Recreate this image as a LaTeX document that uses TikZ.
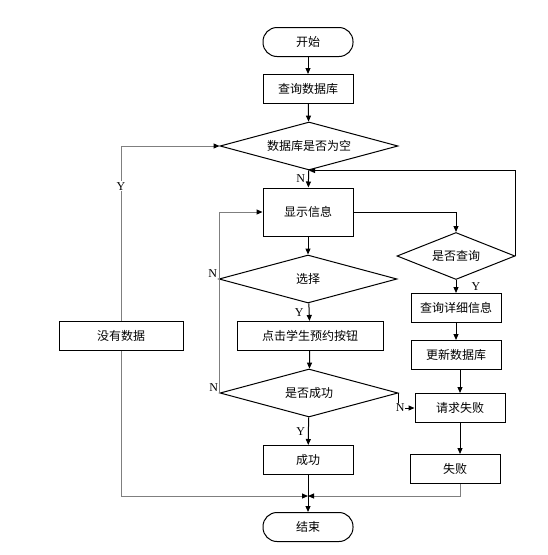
\documentclass[tikz,border=0pt]{standalone}
\usepackage{fontspec}
\setmainfont{Liberation Serif}
\newfontfamily\cjk{Noto Sans CJK SC}
\usetikzlibrary{shapes.geometric,arrows.meta}
\definecolor{line-gray}{HTML}{7F7F7F}

\begin{document}
\begin{tikzpicture}[x=1pt, y=-1pt, line width=1pt, >={Triangle[length=6pt,width=5pt,color=black]},
    box/.style={draw, rectangle, minimum width=90pt, minimum height=29pt, font=\cjk\fontsize{12}{14}\selectfont},
    term/.style={box, rounded corners=14pt},
    cond/.style={draw, diamond, aspect=3.7, inner sep=0pt, minimum width=178pt, minimum height=48pt, font=\cjk\fontsize{12}{14}\selectfont},
    lbl/.style={font=\fontsize{12}{14}\selectfont, inner sep=1pt},
    back/.style={draw=line-gray}]
        \useasboundingbox (0,0) rectangle (547,555);
        \node[term] (a1) at (308,42) {开始};
        \node[box] (a2) at (308,89) {查询数据库};
        \node[cond] (a3) at (309,146) {数据库是否为空};
        \node[box, minimum height=48pt] (a4) at (308,212) {显示信息};
        \node[cond] (a5) at (308,279) {选择};
        \node[box, minimum width=146pt] (a6) at (310,336) {点击学生预约按钮};
        \node[cond] (a7) at (309,393) {是否成功};
        \node[box] (a8) at (308,460) {成功};
        \coordinate (m) at (308,496);
        \node[term] (a9) at (308,527) {结束};
        \node[cond, aspect=2.5, minimum width=118pt, minimum height=47pt] (b1) at (456,256) {是否查询};
        \node[box] (b2) at (456,308) {查询详细信息};
        \node[box] (b3) at (456,355) {更新数据库};
        \node[box] (b4) at (460,408) {请求失败};
        \node[box] (b5) at (455,469) {失败};
        \node[box, minimum width=124pt] (c1) at (121,336) {没有数据};

        \draw[->] (a1) -- (a2);
        \draw[->] (a2) -- (a3);
        \draw[->] (a3) -- node[lbl, left, xshift=-2pt] {N} (a4);
        \draw[->] (a4) -- (a5);
        \draw[->] (a5) -- node[lbl, left, xshift=-4pt] {Y} (a6);
        \draw[->] (a6) -- (a7);
        \draw[->] (a7) -- node[lbl, left, xshift=-2pt] {Y} (a8);
        \draw[->] (a8) -- (a9);
        \draw[back, ->] (a7.west) |- (a4.west);
        \node[lbl, above left] at (a5.west) {N};
        \node[lbl, above left] at (a7.west) {N};
        \draw[back, ->] (c1) |- node[lbl, pos=0.385, fill=white] {Y} (a3.west);
        \draw[back, ->] (c1) |- (m);
        \draw[->] (a4.east) -| (b1.north);
        \draw[->] (b1.east) |- (a3.south);
        \draw[->] (b1) -- node[lbl, right, xshift=14pt] {Y} (b2);
        \draw[->] (b2) -- (b3);
        \draw[->] (b4.north |- b3.south) -- (b4.north);
        \draw[->] (b4.south) -- (b4.south |- b5.north);
        \draw[back, ->] (b4.south |- b5.south) |- (m);
        \draw[->] (a7.east) |- node[lbl, pos=0.55, fill=white] {N} (b4.west);
\end{tikzpicture}
\end{document}
